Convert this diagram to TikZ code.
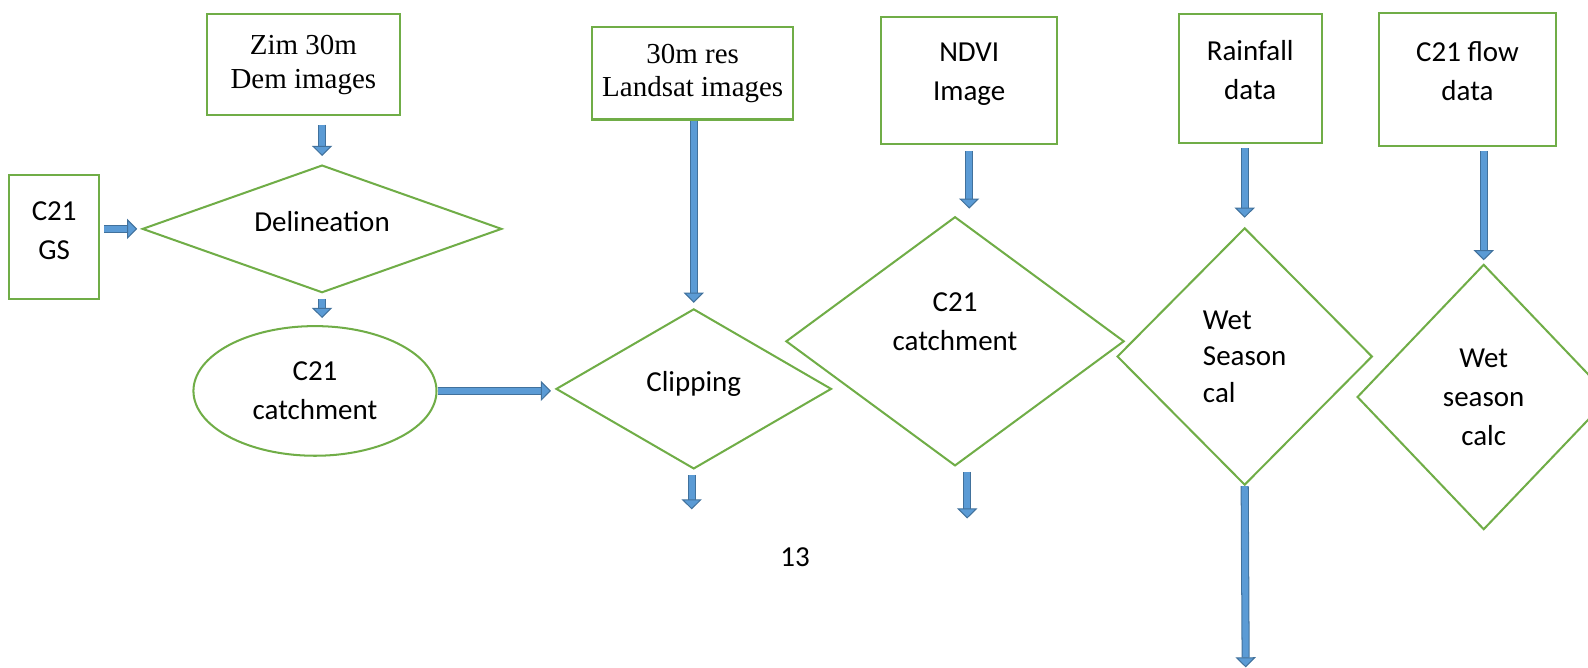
\documentclass[tikz,border=0pt]{standalone}
\usepackage{fontspec}
\setmainfont{Liberation Serif}
\setsansfont{Carlito}
\usetikzlibrary{shapes.geometric,arrows.meta}

\definecolor{linegreen}{HTML}{70AD47}
\definecolor{arrowfill}{HTML}{5B9BD5}
\definecolor{arrowedge}{HTML}{41719C}

\tikzset{
  flowbox/.style={draw=linegreen, line width=1pt, rectangle, inner sep=0pt, align=center},
  decision/.style={draw=linegreen, line width=1pt, diamond, inner sep=0pt, align=center},
  terminal/.style={draw=linegreen, line width=1pt, ellipse, inner sep=0pt, align=center},
  serifText/.style={font=\rmfamily\fontsize{14.3}{16.5}\selectfont},
  sansText/.style={font=\sffamily\fontsize{14.3}{19.3}\selectfont},
  blockarrow/.style={draw=arrowedge, line width=0.5pt, double=arrowfill, double distance=3pt,
    -{Triangle[width=10pt,length=5pt,fill=arrowfill]}},
}

\begin{document}
\begin{tikzpicture}[x=0.5pt,y=-0.5pt]
\clip (0,0) rectangle (1568,659);

% input boxes
\node[flowbox, serifText, minimum width=95.5pt, minimum height=50pt] (zim) at (299.5,64) {Zim 30m\\Dem images};
\node[flowbox, sansText, minimum width=44.5pt, minimum height=61pt] (gs) at (53.5,234) {C21\\GS\\[-13pt]};
\node[flowbox, serifText, minimum width=99pt, minimum height=45.5pt] (landsat) at (684,72.5) {30m res\\Landsat images};
\node[flowbox, sansText, minimum width=87pt, minimum height=62.5pt] (ndvi) at (957,79.5) {NDVI\\Image\\[-11pt]};
\node[flowbox, sansText, minimum width=70.5pt, minimum height=63.5pt] (rain) at (1234.5,77.5) {Rainfall\\data\\[-11pt]};
\node[flowbox, sansText, minimum width=87pt, minimum height=65.5pt] (flow) at (1449,78.5) {C21 flow\\data\\[-11pt]};

% process steps
\node[decision, sansText, aspect=2.82, minimum width=177.5pt, minimum height=63pt] (delin) at (318,226) {Delineation\\[-12pt]};
\node[terminal, sansText, minimum width=120pt, minimum height=64pt] (catch1) at (311,386) {C21\\catchment};
\node[decision, sansText, aspect=1.72, minimum width=136pt, minimum height=79pt] (clip) at (685,384) {Clipping\\[-12pt]};
\node[decision, sansText, aspect=1.36, minimum width=167pt, minimum height=123pt] (catch2) at (943,337) {C21\\catchment\\};
\node[decision, sansText, aspect=1, align=left, minimum width=126pt, minimum height=127pt,
  font=\sffamily\fontsize{14.3}{18}\selectfont] (wet1) at (1229,352) {Wet\\Season\hspace*{10pt}\\cal};
\node[decision, sansText, aspect=0.95, minimum width=125pt, minimum height=131pt] (wet2) at (1465,392) {Wet\\season\\calc};

\node[sansText] (pagenum) at (785,550) {13};

% loose ends
\coordinate (clipout) at (683,503);
\coordinate (catch2out) at (955,512);
\coordinate (wet1out) at (1230,659);

% arrows
\draw[blockarrow, shorten <=4pt, shorten >=4pt] (delin.north |- zim.south) -- (delin.north);
\draw[blockarrow, shorten <=2pt, shorten >=2pt] (gs.east |- delin.west) -- (delin.west);
\draw[blockarrow, shorten <=2.5pt, shorten >=3.5pt] (delin.south) -- (delin.south |- catch1.north);
\draw[blockarrow, shorten >=2pt] (catch1.east) -- (catch1.east -| clip.west);
\draw[blockarrow, shorten >=2.5pt] (clip.north |- landsat.south) -- (clip.north);
\draw[blockarrow, shorten <=2.5pt] (clipout |- clip.south) -- (clipout);
\draw[blockarrow, shorten <=3pt, shorten >=3.5pt] (ndvi.south) -- (ndvi.south |- catch2.north);
\draw[blockarrow, shorten <=2.5pt] (catch2out |- catch2.south) -- (catch2out);
\draw[blockarrow, shorten <=2pt, shorten >=4.5pt] (wet1.north |- rain.south) -- (wet1.north);
\draw[blockarrow] (wet1.south) -- (wet1out);
\draw[blockarrow, shorten <=2pt, shorten >=1.5pt] (wet2.north |- flow.south) -- (wet2.north);
\end{tikzpicture}
\end{document}
